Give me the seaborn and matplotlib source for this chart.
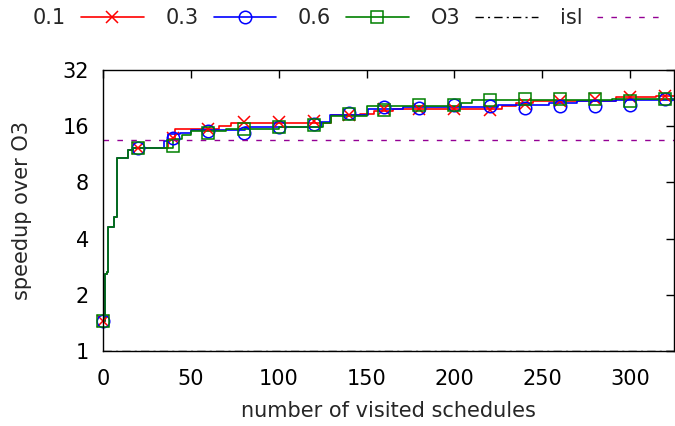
import pandas as pd
import matplotlib
matplotlib.use('Agg')
import matplotlib.pyplot as plt
from matplotlib.lines import Line2D
import seaborn as sns

# series names / legend labels
series_names = ['0.1', '0.3', '0.6']
series_colors = ['red', 'blue', 'green']
series_markers = ['x', 'o', 's']

# step curves (x where the best speedup changes, new speedup)
early_x = [0, 1, 2, 3, 6, 8, 14, 17]
early_y = [1.45, 2.6, 2.65, 4.6, 5.2, 10.8, 12.0, 12.3]

red_x = [37, 41, 66, 73, 130, 146, 154, 165, 227, 235, 245, 292, 315]
red_y = [13.6, 15.4, 16.1, 16.7, 18.3, 18.7, 19.3, 19.7, 20.5, 21.2, 21.8, 22.8, 23.2]

blue_x = [35, 37, 44, 50, 81, 124, 129, 151, 171, 225, 254, 270, 292]
blue_y = [13.4, 14.5, 14.7, 15.3, 15.9, 16.8, 18.3, 19.8, 20.2, 20.8, 21.3, 21.7, 22.0]

green_x = [40, 45, 50, 70, 100, 125, 130, 150, 204, 210, 290]
green_y = [13.6, 14.4, 15.0, 15.5, 15.8, 16.6, 18.2, 20.4, 21.4, 22.1, 22.4]

# point markers every 20 schedules
marker_x = [0, 20, 40, 60, 80, 100, 120, 140, 160, 180, 200, 220, 240, 260, 280, 300, 320]
red_m = [1.45, 12.3, 13.8, 15.4, 16.9, 16.9, 17.1, 18.3, 19.8, 19.8, 19.7, 19.5, 21.0, 21.9, 22.3, 22.9, 23.3]
blue_m = [1.45, 12.3, 13.9, 15.0, 14.7, 15.9, 16.5, 18.9, 20.3, 20.0, 20.8, 20.6, 20.0, 20.6, 20.6, 20.8, 22.3]
green_m = [1.45, 12.3, 12.6, 14.8, 15.5, 15.8, 16.3, 18.7, 19.5, 20.8, 20.7, 22.2, 22.3, 22.3, 22.3, 21.8, 22.3]

# reference lines
o3_speedup = 1.0
isl_speedup = 13.5

x_max = 325

rows = []
for name, xs, ys in zip(series_names, [red_x, blue_x, green_x], [red_y, blue_y, green_y]):
    all_x = early_x + xs + [x_max]
    all_y = early_y + ys + [ys[-1]]
    for x, y in zip(all_x, all_y):
        rows.append({'schedules': x, 'speedup': y, 'series': name})
lines_df = pd.DataFrame(rows)

sns.set_theme(style='white')
plt.rcParams['font.family'] = ['DejaVu Sans']

fig = plt.figure(figsize=(6.75, 4.26), dpi=100)
ax = fig.add_axes([0.1526, 0.176, 0.8459, 0.6597])

sns.lineplot(data=lines_df, x='schedules', y='speedup', hue='series',
             palette=dict(zip(series_names, series_colors)),
             drawstyle='steps-post', linewidth=1.2, legend=False, ax=ax,
             estimator=None, sort=True)

for name, col, mk, vals in zip(series_names, series_colors, series_markers,
                               [red_m, blue_m, green_m]):
    ax.plot(marker_x, vals, linestyle='none', marker=mk, markersize=9,
            markerfacecolor='none', markeredgecolor=col, markeredgewidth=1.1,
            clip_on=False)

ax.axhline(o3_speedup, color='black', linewidth=1.0, dashes=(6, 3, 1.5, 3))
ax.axhline(isl_speedup, color='#940094', linewidth=1.0, dashes=(4, 6))

ax.set_yscale('log', base=2)
ax.set_ylim(1, 32)
ax.set_xlim(0, x_max)
yt = [1, 2, 4, 8, 16, 32]
ax.set_yticks(yt)
ax.set_yticklabels([str(v) for v in yt])
ax.minorticks_off()
ax.set_xticks([0, 50, 100, 150, 200, 250, 300])

ax.tick_params(direction='in', length=6, width=1, top=True, right=True,
               labelsize=15, colors='black')
ax.tick_params(axis='x', pad=13)
ax.tick_params(axis='y', pad=10)
for s in ax.spines.values():
    s.set_color('black')
    s.set_linewidth(1.0)

ax.set_xlabel('number of visited schedules', fontsize=15)
ax.set_ylabel('speedup over O3', fontsize=15)
ax.xaxis.set_label_coords(0.5, -0.178)
ax.yaxis.set_label_coords(-0.124, 0.5)

handles = [Line2D([], [], color=c, marker=m, markersize=9, markerfacecolor='none',
                  markeredgewidth=1.1, linewidth=1.2)
           for c, m in zip(series_colors, series_markers)]
handles.append(Line2D([], [], color='black', linewidth=1.0, dashes=(6, 3, 1.5, 3)))
handles.append(Line2D([], [], color='#940094', linewidth=1.0, dashes=(4, 6)))
labels = series_names + ['O3', 'isl']
fig.legend(handles, labels, loc='center', bbox_to_anchor=(0.513, 0.958), ncol=5,
           frameon=False, markerfirst=False, handlelength=3.0, handletextpad=0.72,
           columnspacing=1.05, fontsize=15)

fig.savefig('out.png', dpi=100)
